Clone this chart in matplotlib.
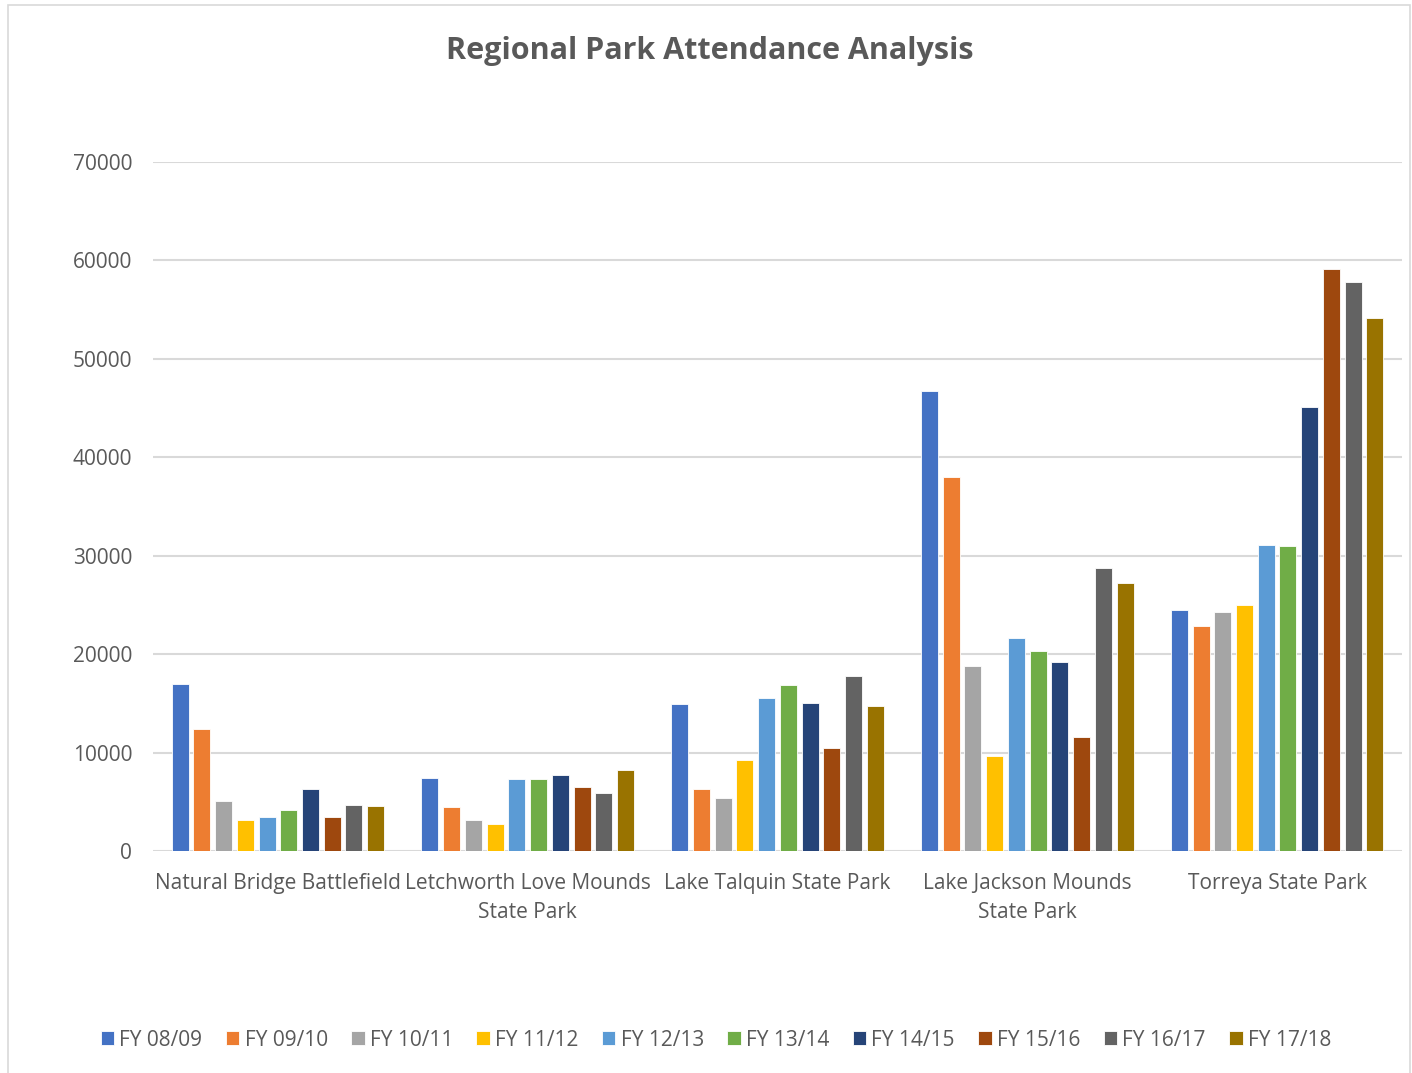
import matplotlib
matplotlib.use("Agg")
import matplotlib.pyplot as plt
import numpy as np
from matplotlib.patches import Rectangle

plt.rcParams['font.family'] = ['Open Sans', 'DejaVu Sans']

categories = ["Natural Bridge Battlefield", "Letchworth Love Mounds\nState Park",
              "Lake Talquin State Park", "Lake Jackson Mounds\nState Park", "Torreya State Park"]
series_names = ["FY 08/09", "FY 09/10", "FY 10/11", "FY 11/12", "FY 12/13",
                "FY 13/14", "FY 14/15", "FY 15/16", "FY 16/17", "FY 17/18"]
fy0809 = [16950, 7450, 14900, 46700, 24500]
fy0910 = [12350, 4440, 6270, 38000, 22900]
fy1011 = [5080, 3120, 5350, 18760, 24250]
fy1112 = [3120, 2740, 9280, 9650, 25000]
fy1213 = [3500, 7300, 15500, 21600, 31100]
fy1314 = [4170, 7300, 16830, 20300, 31000]
fy1415 = [6270, 7690, 15000, 19170, 45150]
fy1516 = [3500, 6530, 10430, 11600, 59100]
fy1617 = [4700, 5860, 17750, 28800, 57800]
fy1718 = [4570, 8200, 14700, 27250, 54150]
values = [fy0809, fy0910, fy1011, fy1112, fy1213, fy1314, fy1415, fy1516, fy1617, fy1718]
colors = ["#4472C4", "#ED7D31", "#A5A5A5", "#FFC000", "#5B9BD5",
          "#70AD47", "#264478", "#9E480E", "#636363", "#997300"]
yticks = [0, 10000, 20000, 30000, 40000, 50000, 60000, 70000]

fig = plt.figure(figsize=(14.12, 10.73), dpi=100)
ax = fig.add_axes([153/1412, 1-851/1073, (1402-153)/1412, (851-162)/1073])

x = np.arange(len(categories))
step = 0.087
width = 0.068
for i, (name, vals, c) in enumerate(zip(series_names, values, colors)):
    ax.bar(x + (i - 4.5) * step, vals, width=width, color=c, label=name,
           edgecolor='white', linewidth=0.6, zorder=3)

ax.set_xlim(-0.5, len(categories) - 0.5)
ax.set_ylim(0, 70000)
ax.set_yticks(yticks)
ax.set_yticklabels([str(t) for t in yticks])
ax.set_xticks(x)
ax.set_xticklabels(categories, linespacing=1.5)
ax.tick_params(axis='both', length=0, colors='#595959', labelsize=15)
ax.tick_params(axis='y', pad=15)
ax.tick_params(axis='x', pad=16)
ax.grid(axis='y', color='#d9d9d9', linewidth=1.5, zorder=0)
for s in ax.spines.values():
    s.set_visible(False)

fig.text(710/1412, 1-51/1073, "Regional Park Attendance Analysis", ha='center', va='center',
         fontsize=22, fontweight='bold', color='#595959')

leg = fig.legend(loc='center', bbox_to_anchor=(716/1412, 1-1040/1073), ncol=10,
                 frameon=False, fontsize=15, handlelength=0.65, handleheight=0.65,
                 handletextpad=0.25, columnspacing=1.12, labelcolor='#595959')

fig.patches.append(Rectangle((8/1412, -0.01), (1410-8)/1412, 1.0 - 5/1073 + 0.01,
                             transform=fig.transFigure, fill=False,
                             edgecolor='#d9d9d9', linewidth=1.2))

fig.savefig("out.png", dpi=100)
